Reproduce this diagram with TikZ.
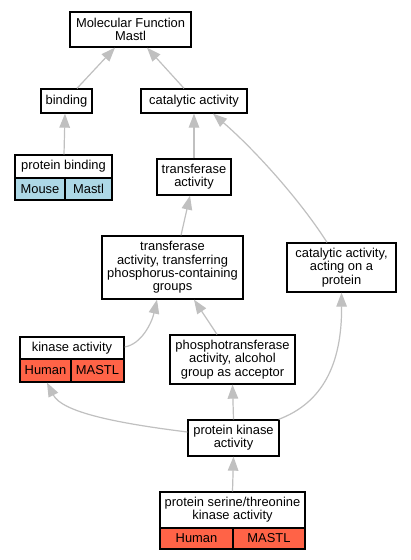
\documentclass[tikz,border=0pt]{standalone}
\usepackage{fontspec}
\setmainfont{Liberation Sans}
\usetikzlibrary{arrows.meta}
\definecolor{edgegray}{HTML}{C0C0C0}
\definecolor{tomatoc}{HTML}{FF6347}
\definecolor{lblue}{HTML}{ADD8E6}
\begin{document}
\begin{tikzpicture}[x=1pt,y=-1pt,
  box/.style={draw=black,line width=1.3pt,fill=white,align=center,inner sep=0pt,
    font=\fontsize{12.9}{13.3}\selectfont},
  human/.style={box,fill=tomatoc},
  mouse/.style={box,fill=lblue},
  edge/.style={draw=edgegray,line width=1.2pt,-{Triangle[length=14pt,width=10.5pt,fill=edgegray]}}]
\useasboundingbox[fill=white] (0,0) rectangle (411,560);
% nodes
\node[box,minimum width=121,minimum height=35] (mf) at (130.5,29.5) {Molecular Function\\Mastl};
\node[box,minimum width=51,minimum height=24] (bind) at (66.5,101) {binding};
\node[box,minimum width=106,minimum height=24] (cat) at (194,101) {catalytic activity};
\node[box,minimum width=97,minimum height=23] (pb) at (63.5,166.5) {protein binding};
\node[mouse,minimum width=50,minimum height=22] (pbm) at (40,189) {Mouse};
\node[mouse,minimum width=47,minimum height=22] (pbg) at (88.5,189) {Mastl};
\node[box,minimum width=74,minimum height=36] (ta) at (194,177) {transferase\\activity};
\node[box,minimum width=141,minimum height=63] (ttp) at (172.5,267.5) {transferase\\activity, transferring\\phosphorus-containing\\groups};
\node[box,minimum width=109,minimum height=49] (cap) at (341.5,267.5) {catalytic activity,\\acting on a\\protein};
\node[box,minimum width=104,minimum height=22] (ka) at (72,348) {kinase activity};
\node[human,minimum width=51,minimum height=23] (kah) at (45.5,370.5) {Human};
\node[human,minimum width=53,minimum height=23] (kam) at (97.5,370.5) {MASTL};
\node[box,minimum width=125,minimum height=49] (pt) at (232.5,359.5) {phosphotransferase\\activity, alcohol\\group as acceptor};
\node[box,minimum width=91,minimum height=36] (pk) at (233.5,438) {protein kinase\\activity};
\node[box,minimum width=145,minimum height=36] (pst) at (232.5,510) {protein serine/threonine\\kinase activity};
\node[human,minimum width=73,minimum height=21] (psth) at (196.5,538.5) {Human};
\node[human,minimum width=72,minimum height=21] (pstm) at (269,538.5) {MASTL};
% edges
\draw[edge] ([xshift=10.5]bind.north) -- ([xshift=-15.5]mf.south);
\draw[edge] ([xshift=-10]cat.north) -- ([xshift=16.5]mf.south);
\draw[edge] ([xshift=0.5]pb.north) -- ([xshift=-1.5]bind.south);
\draw[edge] (ta.north) -- (cat.south);
\draw[edge] ([xshift=-14.5]cap.north) .. controls (300,200) and (255,150) .. ([xshift=19]cat.south);
\draw[edge] ([xshift=8.5]ttp.north) -- ([xshift=-4]ta.south);
\draw[edge] ([yshift=1]ka.east) .. controls (142,344) and (152,322) .. ([xshift=-15.5]ttp.south);
\draw[edge] ([xshift=-15.5]pt.north) -- ([xshift=21.5]ttp.south);
\draw[edge] ([yshift=6]pk.west) .. controls (115,423) and (62,412) .. ([xshift=1.5]kah.south);
\draw[edge] (pk.north) -- (pt.south);
\draw[edge] ([xshift=-1]pk.north east) .. controls (322,403) and (342,365) .. (cap.south);
\draw[edge] (pst.north) -- (pk.south);
\end{tikzpicture}
\end{document}
